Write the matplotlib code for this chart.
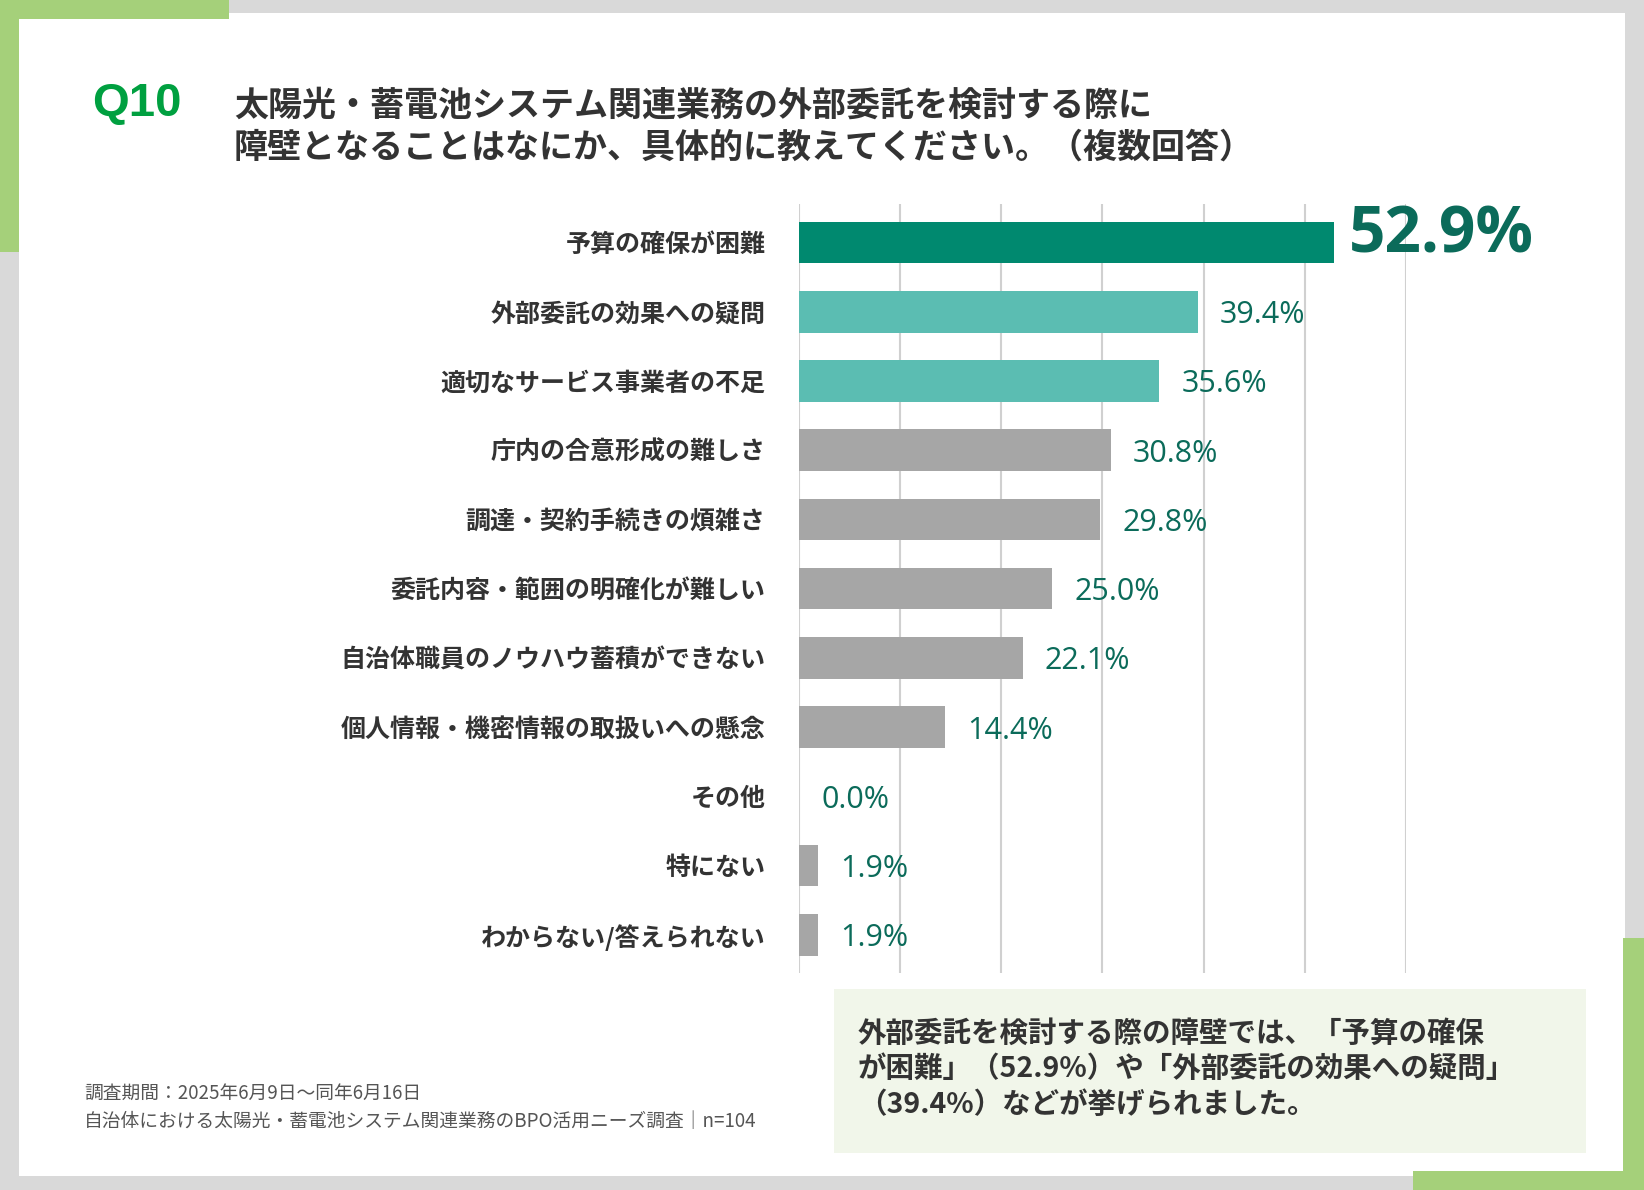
import matplotlib
matplotlib.use("Agg")
import matplotlib.pyplot as plt
from matplotlib.patches import Rectangle

plt.rcParams['font.family'] = ['Noto Sans CJK JP', 'DejaVu Sans']

categories = ["予算の確保が困難", "外部委託の効果への疑問", "適切なサービス事業者の不足",
              "庁内の合意形成の難しさ", "調達・契約手続きの煩雑さ", "委託内容・範囲の明確化が難しい",
              "自治体職員のノウハウ蓄積ができない", "個人情報・機密情報の取扱いへの懸念",
              "その他", "特にない", "わからない/答えられない"]
values = [52.9, 39.4, 35.6, 30.8, 29.8, 25.0, 22.1, 14.4, 0.0, 1.9, 1.9]
colors = ["#00896f", "#5bbdb2", "#5bbdb2"] + ["#a6a6a6"] * 8

W, H = 1568.0, 1135.0
fig = plt.figure(figsize=(16.44, 11.90), dpi=100)
fig.patch.set_facecolor("#d9d9d9")

def box(x0, y0, x1, y1, c, z=-2):
    fig.patches.append(Rectangle((x0 / W, 1 - y1 / H), (x1 - x0) / W, (y1 - y0) / H,
                                 transform=fig.transFigure, color=c, zorder=z, lw=0))

box(18, 12, 1550, 1122, "white", -3)
g = "#a5d07a"
box(0, 0, 218, 18, g); box(0, 0, 18, 240, g)
box(1548, 895, 1568, 1135, g); box(1348, 1117, 1568, 1135, g)
box(795, 943, 1513, 1100, "#f1f6ea")

fig.text(88 / W, 1 - 99 / H, "Q10", fontsize=34, fontweight="bold", color="#00a040",
         va="center", family=["Liberation Sans", "DejaVu Sans"])
fig.text(223 / W, 1 - 120 / H, "太陽光・蓄電池システム関連業務の外部委託を検討する際に\n障壁となることはなにか、具体的に教えてください。（複数回答）",
         fontsize=24.5, fontweight="bold", color="#333333", va="center", linespacing=1.25)

ax = fig.add_axes([762 / W, 1 - 928 / H, (1341 - 762) / W, (928 - 195) / H])
ax.set_zorder(5)
ax.set_facecolor("none")
y = list(range(len(categories)))
ax.barh(y, values, color=colors, height=0.6, zorder=3)
ax.set_ylim(len(categories) - 0.5 + 0.05, -0.5 - 0.05)
ax.set_xlim(0, 60)
ax.set_xticks(range(0, 61, 10))
ax.grid(axis="x", color="#d0d0d0", lw=1.5, zorder=0)
ax.tick_params(length=0, labelbottom=False)
ax.set_yticks(y)
ax.set_yticklabels(categories, fontsize=18, fontweight="bold", color="#333333")
ax.tick_params(axis="y", pad=24)
for s in ax.spines.values():
    s.set_visible(False)
for i, v in enumerate(values):
    if i == 0:
        ax.text(v + 1.5, i - 0.1, f"{v:.1f}%", fontsize=46, fontweight="bold", color="#0b6b5a",
                va="center", family=["Open Sans", "DejaVu Sans"])
    else:
        ax.text(v + 2.2, i + 0.05, f"{v:.1f}%", fontsize=22, color="#0b6b5a",
                va="center", family=["Open Sans", "DejaVu Sans"])

fig.text(818 / W, 1 - 1020 / H, "外部委託を検討する際の障壁では、「予算の確保\nが困難」（52.9%）や「外部委託の効果への疑問」\n（39.4%）などが挙げられました。",
         fontsize=20.5, fontweight="bold", color="#333333", va="center", linespacing=1.35)
fig.text(80 / W, 1 - 1056 / H, "調査期間：2025年6月9日〜同年6月16日\n自治体における太陽光・蓄電池システム関連業務のBPO活用ニーズ調査｜n=104",
         fontsize=13.5, color="#555555", va="center", linespacing=1.45)

fig.savefig("out.png", dpi=100, facecolor=fig.get_facecolor())
